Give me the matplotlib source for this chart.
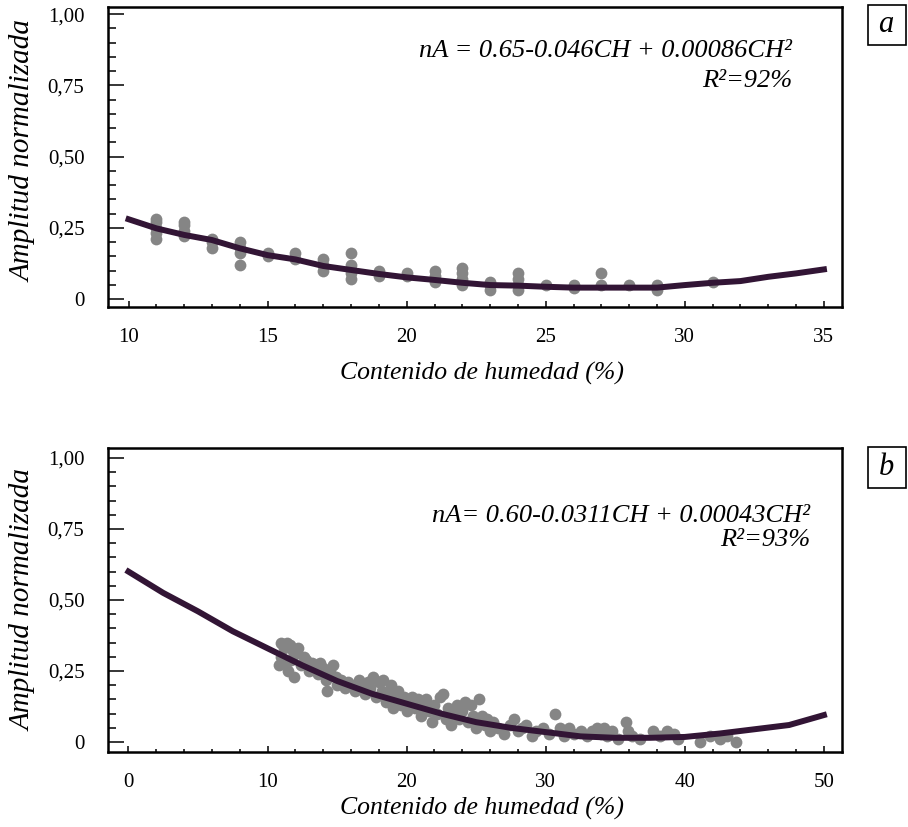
import matplotlib.pyplot as plt
from matplotlib.ticker import MultipleLocator, FixedLocator
from matplotlib.patches import Rectangle

plt.rcParams['font.family'] = ['Liberation Serif', 'DejaVu Serif']

# ---- panel a data ----
a_x = [11, 11, 11, 11, 11, 12, 12, 12, 12, 13, 13, 13, 14, 14, 14, 14,
       15, 15, 16, 16, 17, 17, 17, 18, 18, 18, 18, 19, 19, 20, 20,
       21, 21, 21, 22, 22, 22, 22, 23, 23, 23, 24, 24, 24, 24,
       25, 26, 26, 27, 27, 28, 29, 29, 31]
a_y = [0.21, 0.23, 0.25, 0.27, 0.28, 0.22, 0.24, 0.26, 0.27, 0.18, 0.20, 0.21,
       0.12, 0.16, 0.18, 0.20, 0.15, 0.16, 0.14, 0.16, 0.10, 0.12, 0.14,
       0.07, 0.09, 0.12, 0.16, 0.08, 0.10, 0.08, 0.09, 0.06, 0.08, 0.10,
       0.05, 0.07, 0.09, 0.11, 0.03, 0.05, 0.06, 0.03, 0.05, 0.07, 0.09,
       0.05, 0.04, 0.05, 0.05, 0.09, 0.05, 0.03, 0.05, 0.06]
a_fit_x = [10, 11, 12, 13, 14, 15, 16, 17, 18, 19, 20, 21, 22, 23, 24, 25,
           26, 27, 28, 29, 30, 31, 32, 33, 34, 35]
a_fit_y = [0.280, 0.248, 0.225, 0.207, 0.178, 0.154, 0.139, 0.116, 0.102,
           0.088, 0.076, 0.067, 0.057, 0.049, 0.047, 0.043, 0.040, 0.040,
           0.040, 0.040, 0.049, 0.057, 0.063, 0.078, 0.090, 0.104]

# ---- panel b data ----
b_x = [11.0, 11.2, 11.4, 11.6, 11.8, 11.0, 11.3, 11.7, 12.0, 12.2, 10.8, 11.5,
       11.9, 12.4, 12.6, 12.8, 13.0, 13.2, 13.4, 13.6, 13.8, 14.0, 14.2, 14.3,
       14.5, 14.7, 14.9, 15.0, 15.3, 15.6, 15.8, 16.0, 16.3, 16.6, 16.8, 17.0,
       17.2, 17.4, 17.6, 17.8, 18.0, 18.2, 18.3, 18.5, 18.7, 18.9, 19.0, 19.2,
       19.4, 19.6, 19.8, 20.0, 20.2, 20.4, 20.6, 20.8, 21.0, 21.2, 21.4, 21.6,
       21.8, 22.0, 22.2, 22.4, 22.6, 22.8, 23.0, 23.2, 23.4, 23.6, 23.8, 24.0,
       24.2, 24.4, 24.6, 24.8, 25.0, 25.2, 25.4, 25.6, 25.8, 26.0, 26.2, 26.6,
       27.0, 27.4, 27.7, 28.0, 28.3, 28.6, 29.0, 29.3, 29.8, 30.2, 30.7, 31.0,
       31.3, 31.7, 32.0, 32.5, 33.0, 33.3, 33.7, 34.0, 34.2, 34.4, 34.8, 35.2,
       35.8, 35.9, 36.2, 36.8, 37.7, 38.2, 38.7, 39.2, 39.5, 41.1, 41.8, 42.5,
       43.0, 43.7]
b_y = [0.35, 0.33, 0.35, 0.34, 0.32, 0.30, 0.28, 0.29, 0.31, 0.33, 0.27, 0.25,
       0.23, 0.27, 0.30, 0.29, 0.25, 0.28, 0.27, 0.24, 0.28, 0.26, 0.22, 0.18,
       0.25, 0.27, 0.23, 0.20, 0.22, 0.19, 0.21, 0.20, 0.18, 0.22, 0.20, 0.17,
       0.21, 0.19, 0.23, 0.16, 0.21, 0.18, 0.22, 0.14, 0.17, 0.20, 0.12, 0.15,
       0.18, 0.13, 0.16, 0.11, 0.14, 0.16, 0.12, 0.15, 0.09, 0.13, 0.15, 0.11,
       0.07, 0.13, 0.10, 0.16, 0.17, 0.08, 0.12, 0.06, 0.10, 0.13, 0.08, 0.11,
       0.14, 0.07, 0.13, 0.09, 0.05, 0.15, 0.09, 0.06, 0.08, 0.04, 0.07, 0.05,
       0.03, 0.06, 0.08, 0.04, 0.05, 0.06, 0.02, 0.04, 0.05, 0.03, 0.10, 0.05,
       0.02, 0.05, 0.03, 0.04, 0.02, 0.04, 0.05, 0.03, 0.05, 0.02, 0.04, 0.01,
       0.07, 0.04, 0.02, 0.01, 0.04, 0.02, 0.04, 0.03, 0.01, 0.00, 0.02, 0.01,
       0.02, 0.00]
b_fit_x = [0, 2.5, 5, 7.5, 10, 12.5, 15, 17.5, 20, 22.5, 25, 27.5, 30, 32.5,
           35, 37.5, 40, 42.5, 45, 47.5, 50]
b_fit_y = [0.60, 0.525, 0.46, 0.39, 0.33, 0.27, 0.215, 0.17, 0.135, 0.10,
           0.07, 0.05, 0.035, 0.02, 0.015, 0.015, 0.018, 0.03, 0.045, 0.06,
           0.095]

y_ticks = [0, 0.25, 0.5, 0.75, 1.0]
y_labels = ['0', '0,25', '0,50', '0,75', '1,00']
a_xticks = [10, 15, 20, 25, 30, 35]
b_xticks = [0, 10, 20, 30, 40, 50]

dot_color = '#858585'
line_color = '#321535'

W, H = 908, 827
fig = plt.figure(figsize=(W / 100, H / 100), dpi=100)


def px_axes(left, top, right, bottom):
    return fig.add_axes([left / W, 1 - bottom / H, (right - left) / W, (bottom - top) / H])


def style(ax, xticks, xlim, ylim, xminor):
    ax.set_xlim(*xlim)
    ax.set_ylim(*ylim)
    ax.xaxis.set_major_locator(FixedLocator(xticks))
    ax.xaxis.set_minor_locator(MultipleLocator(xminor))
    ax.set_xticklabels([str(t) for t in xticks])
    ax.yaxis.set_major_locator(FixedLocator(y_ticks))
    ax.yaxis.set_minor_locator(MultipleLocator(0.05))
    ax.set_yticklabels(y_labels)
    for s in ax.spines.values():
        s.set_linewidth(1.8)
    ax.tick_params(axis='both', which='both', direction='in', width=1.1,
                   top=False, right=False, labelsize=15)
    ax.tick_params(axis='y', which='major', length=11.5, pad=17)
    ax.tick_params(axis='y', which='minor', length=5.5)
    ax.tick_params(axis='x', which='major', length=4, pad=15)
    ax.tick_params(axis='x', which='minor', length=2.3)
    ax.set_ylabel('Amplitud normalizada', fontsize=21, style='italic')
    ax.set_xlabel('Contenido de humedad (%)', fontsize=18.5, style='italic')


# panel a
ax1 = px_axes(108, 7, 842, 307)
ax1.scatter(a_x, a_y, s=72, color=dot_color, linewidths=0, zorder=2)
ax1.plot(a_fit_x, a_fit_y, color=line_color, lw=4.3, zorder=3)
style(ax1, a_xticks, (9.26, 35.65), (-0.028, 1.025), 1)
ax1.yaxis.set_label_coords(-0.097, 0.52)
ax1.xaxis.set_label_coords(0.51, -0.183)
ax1.text(792 / W, 1 - 51 / H, 'nA = 0.65-0.046CH + 0.00086CH²',
         transform=fig.transFigure, ha='right', va='center', fontsize=19,
         style='italic')
ax1.text(792 / W, 1 - 81 / H, 'R²=92%', transform=fig.transFigure,
         ha='right', va='center', fontsize=19, style='italic')

# panel b
ax2 = px_axes(108, 448, 842, 752)
ax2.scatter(b_x, b_y, s=72, color=dot_color, linewidths=0, zorder=2)
ax2.plot(b_fit_x, b_fit_y, color=line_color, lw=4.3, zorder=3)
style(ax2, b_xticks, (-1.47, 51.3), (-0.035, 1.035), 2)
ax2.yaxis.set_label_coords(-0.097, 0.5)
ax2.xaxis.set_label_coords(0.51, -0.148)
ax2.text(810 / W, 1 - 516 / H, 'nA= 0.60-0.0311CH + 0.00043CH²',
         transform=fig.transFigure, ha='right', va='center', fontsize=19,
         style='italic')
ax2.text(810 / W, 1 - 540 / H, 'R²=93%', transform=fig.transFigure,
         ha='right', va='center', fontsize=19, style='italic')

# panel letters in boxes
for label, top, bot in [('a', 5, 45), ('b', 447, 488)]:
    fig.patches.append(Rectangle((868 / W, 1 - bot / H), 38 / W, (bot - top) / H,
                                 transform=fig.transFigure, fill=False,
                                 lw=1.2, edgecolor='black'))
    fig.text(886 / W, 1 - (top + bot) / 2 / H, label, ha='center', va='center',
             fontsize=22, style='italic')

fig.savefig('out.png', dpi=100)
